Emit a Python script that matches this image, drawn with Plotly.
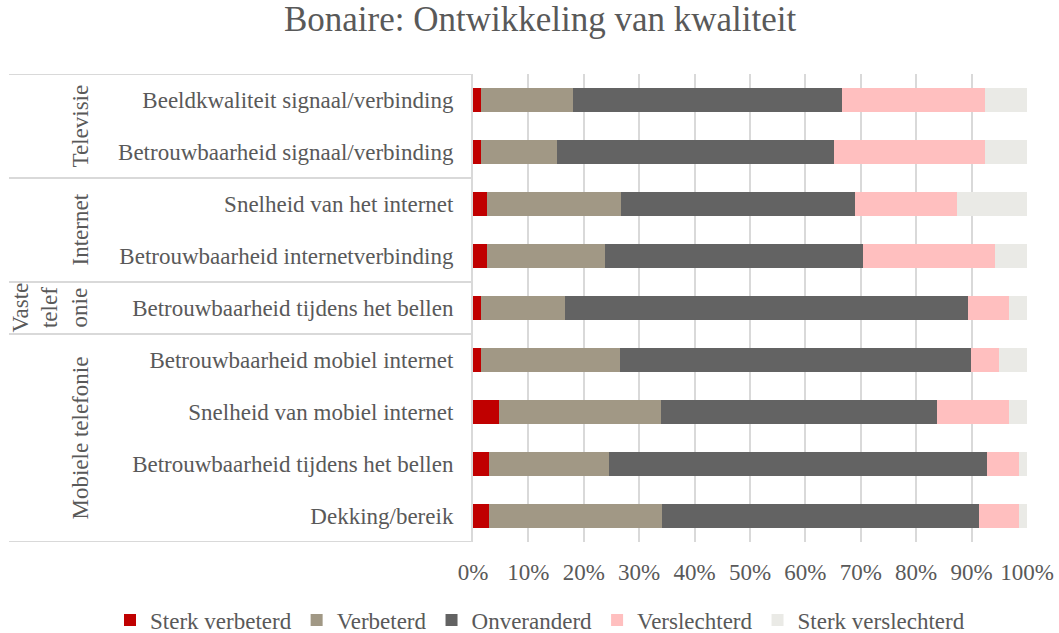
import plotly.graph_objects as go

categories = [
    "Beeldkwaliteit signaal/verbinding",
    "Betrouwbaarheid signaal/verbinding",
    "Snelheid van het internet",
    "Betrouwbaarheid internetverbinding",
    "Betrouwbaarheid tijdens het bellen",
    "Betrouwbaarheid mobiel internet",
    "Snelheid van mobiel internet",
    "Betrouwbaarheid tijdens het bellen",
    "Dekking/bereik",
]
groups = ["Televisie", "Internet", "Vaste<br>telef<br>onie", "Mobiele telefonie"]
group_sizes = [2, 2, 1, 4]

series_names = ["Sterk verbeterd", "Verbeterd", "Onveranderd", "Verslechterd", "Sterk verslechterd"]
sterk_verbeterd = [1.4, 1.4, 2.6, 2.6, 1.4, 1.5, 4.7, 2.8, 2.8]
verbeterd = [16.7, 13.7, 24.2, 21.3, 15.2, 25.1, 29.2, 21.8, 31.4]
onveranderd = [48.5, 50.0, 42.1, 46.5, 72.7, 63.3, 49.9, 68.1, 57.2]
verslechterd = [25.8, 27.3, 18.5, 23.8, 7.5, 5.1, 13.0, 5.9, 7.2]
sterk_verslechterd = [7.6, 7.6, 12.6, 5.8, 3.2, 5.0, 3.2, 1.4, 1.4]
tick_values = [0, 10, 20, 30, 40, 50, 60, 70, 80, 90, 100]
tick_labels = [f"{v}%" for v in tick_values]

colors = ["#C00000", "#A19885", "#636363", "#FFBFBF", "#EAEAE6"]
FONT = "Liberation Serif"
TXT = "#595959"
GRID = "#D9D9D9"
FS = 23

ypos = list(range(len(categories)))
fig = go.Figure()
for name, vals, col in zip(series_names,
                           [sterk_verbeterd, verbeterd, onveranderd, verslechterd, sterk_verslechterd],
                           colors):
    fig.add_trace(go.Bar(
        y=ypos, x=vals, name=name, orientation="h",
        marker=dict(color=col, line=dict(width=0)),
        hoverinfo="x+name",
    ))

# left label area lines and group labels
left_x = (9 - 473) / 554
shapes = []
boundaries = [-0.5]
acc = -0.5
for n in group_sizes:
    acc += n
    boundaries.append(acc)
for b in boundaries:
    shapes.append(dict(type="line", xref="paper", yref="y", x0=left_x, x1=0, y0=b, y1=b,
                       line=dict(color=GRID, width=2)))
annotations = []
start = 0
for g, n in zip(groups, group_sizes):
    mid = start + (n - 1) / 2
    annotations.append(dict(text=g, xref="paper", yref="y", x=(94 - 473) / 554, y=mid,
                            textangle=-90, showarrow=False, xanchor="right", yanchor="middle",
                            font=dict(family=FONT, size=FS, color=TXT)))
    start += n

fig.update_layout(
    barmode="stack",
    bargap=0.545,
    width=1059, height=633,
    margin=dict(l=473, r=32, t=74, b=91, autoexpand=False),
    paper_bgcolor="white", plot_bgcolor="white",
    title=dict(text="Bonaire: Ontwikkeling van kwaliteit", x=0.51, xref="container", xanchor="center",
               y=0.97, yanchor="middle",
               font=dict(family=FONT, size=35, color=TXT)),
    font=dict(family=FONT, color=TXT),
    shapes=shapes,
    annotations=annotations,
    legend=dict(orientation="h", xref="paper", x=(110 - 473) / 554, xanchor="left",
                yref="paper", y=-0.1667, yanchor="middle",
                font=dict(family=FONT, size=FS, color=TXT),
                traceorder="normal"),
    showlegend=True,
)
fig.update_xaxes(range=[0, 100], tickvals=tick_values, ticktext=tick_labels,
                 showgrid=True, gridcolor=GRID, gridwidth=1.5, zeroline=False,
                 showline=False, ticks="", ticklabelstandoff=14, automargin=False,
                 tickfont=dict(family=FONT, size=FS, color=TXT))
fig.update_yaxes(tickvals=ypos, ticktext=categories, range=[len(categories) - 0.5, -0.5],
                 showgrid=False, zeroline=False, showline=True, linecolor=GRID, linewidth=2,
                 ticks="", ticklabelstandoff=13, automargin=False,
                 tickfont=dict(family=FONT, size=FS, color=TXT))

fig.write_html("out.html")
